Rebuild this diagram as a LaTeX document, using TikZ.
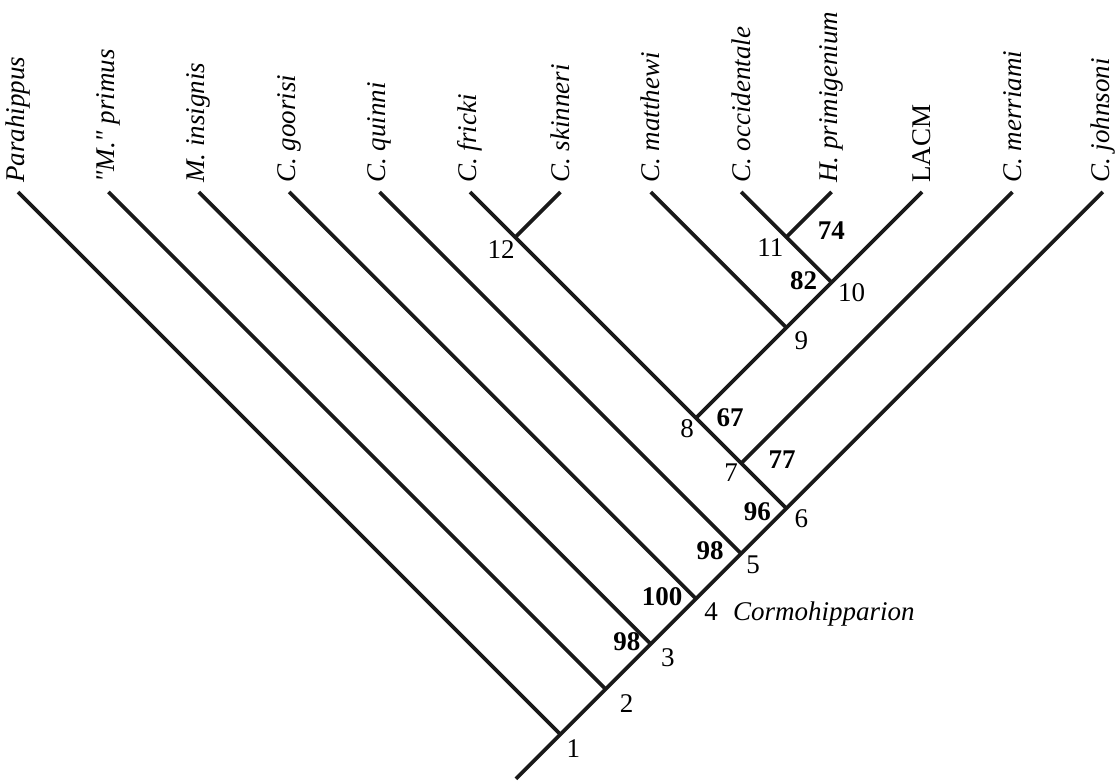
\documentclass[tikz,border=0pt]{standalone}
\usepackage{fontspec}
\setmainfont{Liberation Serif}[Ligatures=TeXOff]
\begin{document}
\begin{tikzpicture}[x=1pt,y=-1pt,
  branch/.style={line width=3.7pt, black!90},
  txt/.style={inner sep=0pt, font=\fontsize{27}{30}\selectfont},
  taxon/.style={txt, rotate=90, anchor=west, font=\fontsize{27}{30}\selectfont\itshape},
  taxonup/.style={txt, rotate=90, anchor=west},
  num/.style={txt},
  supp/.style={txt, font=\fontsize{27}{30}\selectfont\bfseries}]
\useasboundingbox (0,0) rectangle (1117,781);

% tips of the thirteen terminal branches
\coordinate (tPar) at (18,192);
\coordinate (tPri) at (108.4,192);
\coordinate (tIns) at (198.8,192);
\coordinate (tGoo) at (289.2,192);
\coordinate (tQui) at (379.6,192);
\coordinate (tFri) at (470,192);
\coordinate (tSki) at (560.4,192);
\coordinate (tMat) at (650.8,192);
\coordinate (tOcc) at (741.2,192);
\coordinate (tPrg) at (831.6,192);
\coordinate (tLAC) at (922,192);
\coordinate (tMer) at (1012.4,192);
\coordinate (tJoh) at (1102.8,192);

% internal nodes
\coordinate (root) at (516,778.8);
\coordinate (n1) at (560.4,734.4);
\coordinate (n2) at (605.6,689.2);
\coordinate (n3) at (650.8,644);
\coordinate (n4) at (696,598.8);
\coordinate (n5) at (741.2,553.6);
\coordinate (n6) at (786.4,508.4);
\coordinate (n7) at (741.2,463.2);
\coordinate (n8) at (696,418);
\coordinate (n9) at (786.4,327.6);
\coordinate (n10) at (831.6,282.4);
\coordinate (n11) at (786.4,237.2);
\coordinate (n12) at (515.2,237.2);

% branches
\draw[branch] (root) -- (n1) -- (n2) -- (n3) -- (n4) -- (n5) -- (n6) -- (tJoh);
\draw[branch] (n1) -- (tPar);
\draw[branch] (n2) -- (tPri);
\draw[branch] (n3) -- (tIns);
\draw[branch] (n4) -- (tGoo);
\draw[branch] (n5) -- (tQui);
\draw[branch] (n6) -- (n7) -- (n8) -- (n12) -- (tFri);
\draw[branch] (n12) -- (tSki);
\draw[branch] (n7) -- (tMer);
\draw[branch] (n8) -- (n9) -- (n10) -- (tLAC);
\draw[branch] (n9) -- (tMat);
\draw[branch] (n10) -- (n11) -- (tOcc);
\draw[branch] (n11) -- (tPrg);

% taxon names
\node[taxon] (lPar) at ([yshift=9pt]tPar) {Parahippus};
\node[taxon] (lPri) at ([yshift=9pt]tPri) {"M." primus};
\node[taxon] (lIns) at ([yshift=9pt]tIns) {M. insignis};
\node[taxon] (lGoo) at ([yshift=9pt]tGoo) {C. goorisi};
\node[taxon] (lQui) at ([yshift=9pt]tQui) {C. quinni};
\node[taxon] (lFri) at ([yshift=9pt]tFri) {C. fricki};
\node[taxon] (lSki) at ([yshift=9pt]tSki) {C. skinneri};
\node[taxon] (lMat) at ([yshift=9pt]tMat) {C. matthewi};
\node[taxon] (lOcc) at ([yshift=9pt]tOcc) {C. occidentale};
\node[taxon] (lPrg) at ([yshift=9pt]tPrg) {H. primigenium};
\node[taxonup] (lLAC) at ([yshift=9pt]tLAC) {LACM};
\node[taxon] (lMer) at ([yshift=9pt]tMer) {C. merriami};
\node[taxon] (lJoh) at ([yshift=9pt]tJoh) {C. johnsoni};

% node numbers
\node[num] (k1) at ([shift={(13,14)}]n1) {1};
\node[num] (k2) at ([shift={(21,14)}]n2) {2};
\node[num] (k3) at ([shift={(17,14)}]n3) {3};
\node[num] (k4) at ([shift={(15,13)}]n4) {4};
\node[num] (k5) at ([shift={(12,11)}]n5) {5};
\node[num] (k6) at ([shift={(15,10)}]n6) {6};
\node[num] (k7) at ([shift={(-10,9)}]n7) {7};
\node[num] (k8) at ([shift={(-9,11)}]n8) {8};
\node[num] (k9) at ([shift={(15,13)}]n9) {9};
\node[num] (k10) at ([shift={(20,10)}]n10) {10};
\node[num] (k11) at ([shift={(-16,10)}]n11) {11};
\node[num] (k12) at ([shift={(-14,12)}]n12) {12};

% clade name
\node[txt, anchor=base west, font=\fontsize{27}{30}\selectfont\itshape] (cormo)
  at ([xshift=15pt]k4.base east) {Cormohipparion};

% support values
\node[supp] (s3) at ([shift={(-24,-2)}]n3) {98};
\node[supp] (s4) at ([shift={(-34,-2)}]n4) {100};
\node[supp] (s5) at ([shift={(-31,-3)}]n5) {98};
\node[supp] (s6) at ([shift={(-29,3)}]n6) {96};
\node[supp] (s7) at ([shift={(41,-4)}]n7) {77};
\node[supp] (s8) at ([shift={(34,0)}]n8) {67};
\node[supp] (s10) at ([shift={(-28,-2)}]n10) {82};
\node[supp] (s11) at ([shift={(45,-7)}]n11) {74};
\end{tikzpicture}
\end{document}
